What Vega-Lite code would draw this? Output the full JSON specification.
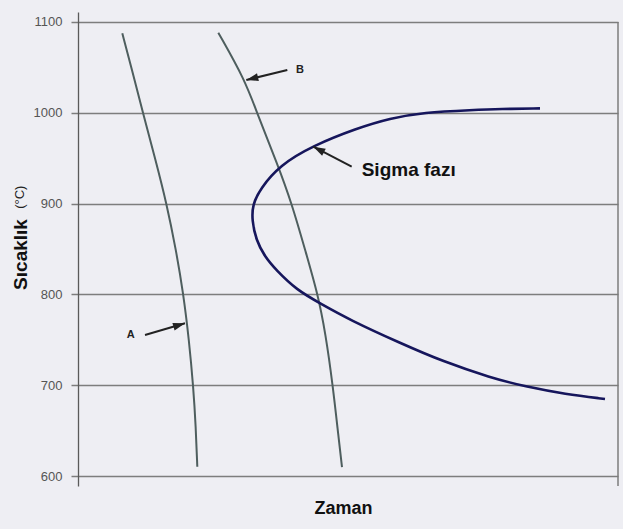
{
  "$schema": "https://vega.github.io/schema/vega-lite/v6.json",
  "width": 540,
  "height": 474,
  "autosize": {"type": "none"},
  "padding": {"left": 78, "top": 12, "right": 5, "bottom": 43},
  "background": "#eeeef3",
  "config": {
    "view": {"stroke": null},
    "font": "Liberation Sans",
    "axis": {"gridColor": "#7d7d7d", "gridOpacity": 1, "gridWidth": 1.5, "tickColor": "#7d7d7d", "tickWidth": 1.5, "domainColor": "#5a5a5a", "domainWidth": 1.3}
  },
  "datasets": {
    "curves": [
      {"s": "A", "o": 1, "t": 44.3, "T": 1087.5},
      {"s": "A", "o": 2, "t": 54, "T": 1047.1},
      {"s": "A", "o": 3, "t": 65, "T": 999.8},
      {"s": "A", "o": 4, "t": 77.5, "T": 948},
      {"s": "A", "o": 5, "t": 88.5, "T": 900.6},
      {"s": "A", "o": 6, "t": 98, "T": 848.9},
      {"s": "A", "o": 7, "t": 105.3, "T": 801.2},
      {"s": "A", "o": 8, "t": 111, "T": 749.8},
      {"s": "A", "o": 9, "t": 115.3, "T": 698.3},
      {"s": "A", "o": 10, "t": 117.8, "T": 654},
      {"s": "A", "o": 11, "t": 119.3, "T": 610.2},
      {"s": "B", "o": 1, "t": 140.3, "T": 1088.2},
      {"s": "B", "o": 2, "t": 167, "T": 1036.1},
      {"s": "B", "o": 3, "t": 179, "T": 999.8},
      {"s": "B", "o": 4, "t": 199, "T": 944.7},
      {"s": "B", "o": 5, "t": 213.7, "T": 900.6},
      {"s": "B", "o": 6, "t": 228, "T": 845.6},
      {"s": "B", "o": 7, "t": 239.5, "T": 801.5},
      {"s": "B", "o": 8, "t": 247.5, "T": 757.5},
      {"s": "B", "o": 9, "t": 255, "T": 698},
      {"s": "B", "o": 10, "t": 260.5, "T": 643},
      {"s": "B", "o": 11, "t": 264, "T": 609.9}
    ],
    "sigma": [
      {"o": 1, "t": 462, "T": 1004.9},
      {"o": 2, "t": 422, "T": 1004.2},
      {"o": 3, "t": 395.3, "T": 1003.1},
      {"o": 4, "t": 345.3, "T": 1000.5},
      {"o": 5, "t": 312, "T": 993.9},
      {"o": 6, "t": 278.7, "T": 982.9},
      {"o": 7, "t": 235.3, "T": 964},
      {"o": 8, "t": 202, "T": 942.5},
      {"o": 9, "t": 182, "T": 916.1},
      {"o": 10, "t": 174.5, "T": 898.4},
      {"o": 11, "t": 174, "T": 881.9},
      {"o": 12, "t": 178, "T": 859.9},
      {"o": 13, "t": 187, "T": 841.2},
      {"o": 14, "t": 198, "T": 826.9},
      {"o": 15, "t": 218.7, "T": 804.8},
      {"o": 16, "t": 242, "T": 790.2},
      {"o": 17, "t": 272, "T": 771.8},
      {"o": 18, "t": 322, "T": 746.5},
      {"o": 19, "t": 365, "T": 726.1},
      {"o": 20, "t": 412, "T": 708.5},
      {"o": 21, "t": 449, "T": 698},
      {"o": 22, "t": 487, "T": 690.3},
      {"o": 23, "t": 527, "T": 684.8}
    ],
    "arrows": [
      {"k": "B", "t0": 209.3, "T0": 1047.1, "t1": 168.3, "T1": 1036.1, "ang": 256},
      {"k": "A", "t0": 67, "T0": 755.3, "t1": 107, "T1": 768.2, "ang": 73.7},
      {"k": "S", "t0": 273.7, "T0": 940.6, "t1": 235.3, "T1": 962.7, "ang": 297.5}
    ],
    "labels": [
      {"txt": "B", "t": 222, "T": 1047},
      {"txt": "A", "t": 52.7, "T": 755.3}
    ],
    "biglabel": [
      {"txt": "Sigma fazı", "t": 283.7, "T": 937.2}
    ],
    "unit": [
      {"txt": "(°C)", "t": -58, "T": 907}
    ],
    "frame": [
      {"t": 540, "T": 589, "T2": 1100}
    ]
  },
  "layer": [
    {
      "data": {"name": "frame"},
      "mark": {"type": "rule", "color": "#7d7d7d", "strokeWidth": 1.5},
      "encoding": {
        "x": {"field": "t", "type": "quantitative", "scale": {"domain": [0, 540], "nice": false}, "axis": {"title": "Zaman", "labels": false, "ticks": false, "domain": false, "grid": false, "titleFontSize": 18, "titleFontWeight": "bold", "titleColor": "#111", "titleX": 265, "titleY": 22, "titleBaseline": "middle"}},
        "y": {"field": "T", "type": "quantitative", "scale": {"domain": [589, 1111], "nice": false, "zero": false}, "axis": {"title": "Sıcaklık", "values": [600, 700, 800, 900, 1000, 1100], "format": "d", "tickSize": 7, "labelFontSize": 13, "labelColor": "#555", "labelPadding": 9, "titleFontSize": 19, "titleFontWeight": "bold", "titleColor": "#111", "titleX": -58, "titleY": 242, "titleBaseline": "middle"}},
        "y2": {"field": "T2"}
      }
    },
    {
      "data": {"name": "curves"},
      "mark": {"type": "line", "color": "#4e5e5e", "strokeWidth": 2, "interpolate": "basis"},
      "encoding": {
        "x": {"field": "t", "type": "quantitative"},
        "y": {"field": "T", "type": "quantitative"},
        "detail": {"field": "s"},
        "order": {"field": "o"}
      }
    },
    {
      "data": {"name": "sigma"},
      "mark": {"type": "line", "color": "#16165c", "strokeWidth": 2.6, "interpolate": "basis"},
      "encoding": {
        "x": {"field": "t", "type": "quantitative"},
        "y": {"field": "T", "type": "quantitative"},
        "order": {"field": "o"}
      }
    },
    {
      "data": {"name": "arrows"},
      "mark": {"type": "rule", "color": "#222", "strokeWidth": 2},
      "encoding": {
        "x": {"field": "t0", "type": "quantitative"},
        "y": {"field": "T0", "type": "quantitative"},
        "x2": {"field": "t1"},
        "y2": {"field": "T1"}
      }
    },
    {
      "data": {"name": "arrows"},
      "mark": {"type": "point", "shape": "M0,0 L0.65,2 L-0.65,2 Z", "filled": true, "color": "#222", "opacity": 1, "size": 144},
      "encoding": {
        "x": {"field": "t1", "type": "quantitative"},
        "y": {"field": "T1", "type": "quantitative"},
        "angle": {"field": "ang", "type": "quantitative", "scale": null}
      }
    },
    {
      "data": {"name": "labels"},
      "mark": {"type": "text", "fontWeight": "bold", "fontSize": 11, "color": "#222", "align": "center", "baseline": "middle"},
      "encoding": {
        "x": {"field": "t", "type": "quantitative"},
        "y": {"field": "T", "type": "quantitative"},
        "text": {"field": "txt"}
      }
    },
    {
      "data": {"name": "biglabel"},
      "mark": {"type": "text", "fontWeight": "bold", "fontSize": 19, "color": "#111", "align": "left", "baseline": "middle"},
      "encoding": {
        "x": {"field": "t", "type": "quantitative"},
        "y": {"field": "T", "type": "quantitative"},
        "text": {"field": "txt"}
      }
    },
    {
      "data": {"name": "unit"},
      "mark": {"type": "text", "fontSize": 13, "color": "#222", "angle": 270, "align": "center", "baseline": "middle"},
      "encoding": {
        "x": {"field": "t", "type": "quantitative"},
        "y": {"field": "T", "type": "quantitative"},
        "text": {"field": "txt"}
      }
    }
  ]
}
